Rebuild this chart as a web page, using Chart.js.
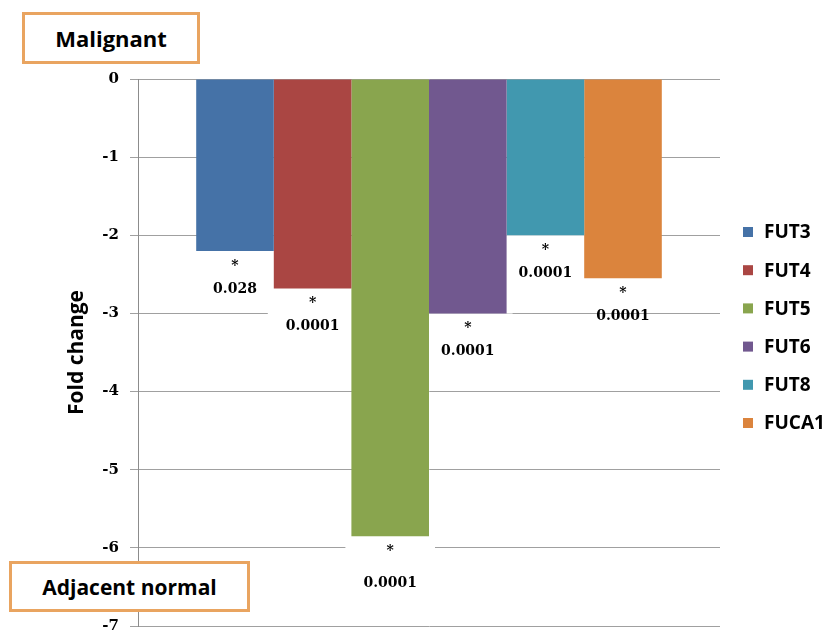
<!DOCTYPE html>
<html>
<head>
<meta charset="utf-8">
<script src="https://cdn.jsdelivr.net/npm/chart.js@4"></script>
<style>
  html, body { margin: 0; padding: 0; background: #fff; }
  #wrap { position: relative; width: 835px; height: 631px; }
  .tag {
    position: absolute; box-sizing: border-box; background: #fff;
    border: 3px solid #e9a460; font: bold 22px 'Open Sans', sans-serif; color: #000;
    display: flex; align-items: center; justify-content: center;
  }
</style>
</head>
<body>
<div id="wrap">
  <canvas id="chart" width="835" height="631"></canvas>
  <div class="tag" style="left:22px;top:12px;width:178px;height:52px;">Malignant</div>
  <div class="tag" style="left:9px;top:561px;width:241px;height:51px;font-size:21px;">Adjacent normal</div>
</div>
<script>
const genes = ['FUT3', 'FUT4', 'FUT5', 'FUT6', 'FUT8', 'FUCA1'];
const foldChange = [-2.2, -2.68, -5.85, -3.0, -2.0, -2.55];
const pValues = ['0.028', '0.0001', '0.0001', '0.0001', '0.0001', '0.0001'];
const colors = ['#4572a7', '#aa4643', '#89a54e', '#71588f', '#4198af', '#db843d'];

// white boxes with * and p value under each bar
const pLabels = {
  id: 'pLabels',
  beforeDatasetsDraw(chart) {
    // boxes go over the grid lines but under the bars
    const ctx = chart.ctx;
    ctx.save();
    ctx.fillStyle = '#fff';
    chart.data.datasets.forEach((ds, i) => {
      const b = chart.getDatasetMeta(i).data[0];
      ctx.fillRect(b.x - b.width / 2 - 6, b.y, b.width + 12, 30);
    });
    ctx.restore();
  },
  afterDatasetsDraw(chart) {
    const ctx = chart.ctx;
    ctx.save();
    ctx.fillStyle = '#000';
    ctx.textAlign = 'center';
    ctx.textBaseline = 'middle';
    ctx.font = 'bold 14px "DejaVu Serif"';
    chart.data.datasets.forEach((ds, i) => {
      const b = chart.getDatasetMeta(i).data[0];
      const extra = i === 2 ? 9 : 0;
      ctx.fillText('*', b.x, b.y + 15);
      ctx.fillText(pValues[i], b.x, b.y + 38 + extra);
    });
    ctx.restore();
  }
};

// legend on the right
const sideLegend = {
  id: 'sideLegend',
  afterDraw(chart) {
    const ctx = chart.ctx;
    ctx.save();
    ctx.font = 'bold 19px "Open Sans"';
    ctx.textBaseline = 'middle';
    chart.data.datasets.forEach((ds, i) => {
      const y = 232 + i * 38.2;
      ctx.fillStyle = ds.backgroundColor;
      ctx.fillRect(743, y - 5, 10, 10);
      ctx.fillStyle = '#000';
      ctx.fillText(ds.label, 764, y + 1);
    });
    ctx.restore();
  }
};

new Chart(document.getElementById('chart'), {
  type: 'bar',
  data: {
    labels: [''],
    datasets: genes.map((g, i) => ({
      label: g,
      data: [foldChange[i]],
      backgroundColor: colors[i],
      borderWidth: 0,
      categoryPercentage: 0.8,
      barPercentage: 1.0
    }))
  },
  options: {
    responsive: false,
    animation: false,
    layout: { padding: { left: 0, right: 115, top: 79, bottom: 5 } },
    plugins: {
      legend: { display: false },
      tooltip: { enabled: false }
    },
    scales: {
      x: { display: false },
      y: {
        min: -7,
        max: 0,
        ticks: {
          stepSize: 1,
          padding: 11,
          color: '#000',
          font: { family: 'DejaVu Serif', weight: 'bold', size: 15 }
        },
        grid: { color: '#a0a0a0', tickLength: 8 },
        border: { color: '#8c8c8c' },
        title: {
          display: true,
          text: 'Fold change',
          color: '#000',
          font: { family: 'Open Sans', weight: 'bold', size: 21 },
          padding: { top: 64, bottom: 0 }
        },
        afterFit(s) {
          s.width = 138;
          s.paddingTop = 0;
          s.paddingBottom = 0;
        }
      }
    }
  },
  plugins: [pLabels, sideLegend]
});
</script>
</body>
</html>
